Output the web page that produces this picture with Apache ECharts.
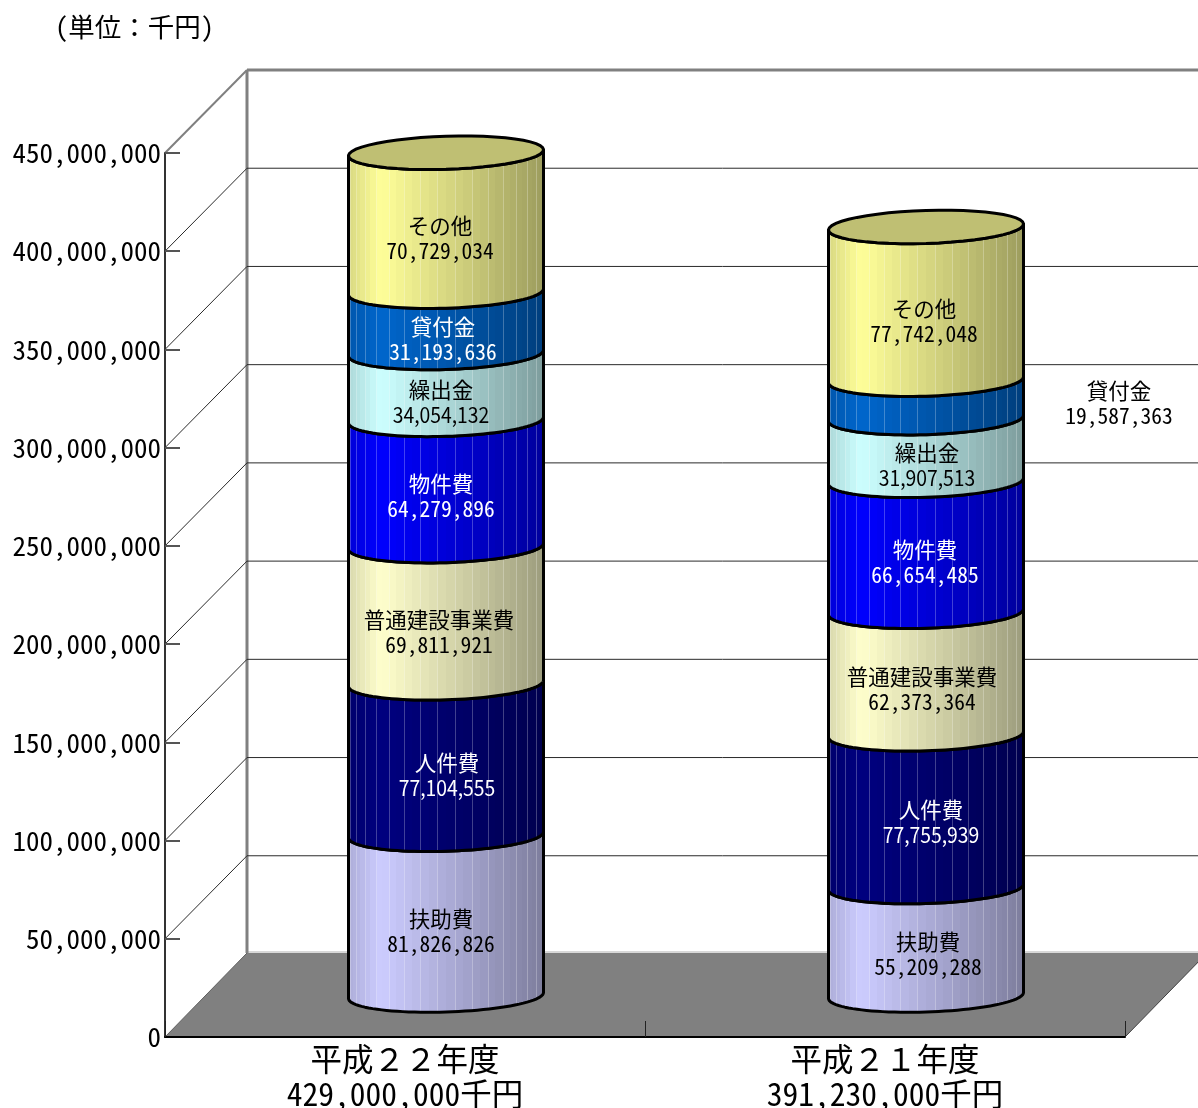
<!DOCTYPE html>
<html><head><meta charset="utf-8">
<style>
html,body{margin:0;padding:0;background:#fff}
#c{width:1198px;height:1108px}
</style>
<script src="https://cdn.jsdelivr.net/npm/echarts@6/dist/echarts.min.js"></script>
</head><body><div id="c"></div>
<script>
const categories = ['平成２２年度', '平成２１年度'];
const totals = ['429,000,000千円', '391,230,000千円'];
const yTicks = [0, 50000000, 100000000, 150000000, 200000000, 250000000, 300000000, 350000000, 400000000, 450000000];

const names = ['扶助費', '人件費', '普通建設事業費', '物件費', '繰出金', '貸付金', 'その他'];
const fujohi   = [81826826, 55209288];
const jinkenhi = [77104555, 77755939];
const kensetsu = [69811921, 62373364];
const bukkenhi = [64279896, 66654485];
const kuridashi= [34054132, 31907513];
const kashitsuke=[31193636, 19587363];
const sonota   = [70729034, 77742048];
const values = [fujohi, jinkenhi, kensetsu, bukkenhi, kuridashi, kashitsuke, sonota];

const baseColors = ['#ccccff', '#000080', '#ffffcc', '#0000ff', '#ccffff', '#0066cc', '#ffff99'];
const labelColors = [['#000', '#000'], ['#fff', '#fff'], ['#000', '#000'], ['#fff', '#fff'], ['#000', '#000'], ['#fff', '#000'], ['#000', '#000']];
// label nudges relative to the cylinder axis (style only)
const nudgeX = [[-5, 2], [1, 5], [-7, -4], [-5, -1], [-5, 1], [-3, 193], [-6, -2]];
const nudgeY = [[0, -3], [0, -4], [2, 0], [-3, 0], [0, 0], [1, -12], [0, 2.5]];
const tightValues = [77104555, 77755939, 34054132, 31907513];

const MONO = '"Noto Sans Mono CJK JP", "Liberation Mono", monospace';
const DX = 82, DY = 83, RX = 97.5, RY = 16.5, SKEW = 3;

const hex = c => [1, 3, 5].map(i => parseInt(c.slice(i, i + 2), 16));
const mix = (rgb, k, w) => 'rgb(' + rgb.map(v => Math.round(Math.min(255, v * k + (255 - v * k) * (w || 0)))).join(',') + ')';
function shade(x) { return x < 0.17 ? 0.84 + (x / 0.17) * 0.16 : 1 - ((x - 0.17) / 0.83) * 0.39; }
function stripes(color) {
  const rgb = hex(color), stops = [], N = 36;
  for (let k = 0; k < N; k++) {
    const x0 = (1 - Math.cos(k / N * Math.PI)) / 2, x1 = (1 - Math.cos((k + 1) / N * Math.PI)) / 2;
    const c = mix(rgb, shade((x0 + x1) / 2));
    const edge = k % 2 === 1 && k > 1 && k < N - 2 ? Math.min(x1, x0 + 0.005) : x0;
    if (edge > x0) {
      const hl = mix(rgb, shade(x0), 0.25);
      stops.push({ offset: x0, color: hl }, { offset: edge, color: hl });
    }
    stops.push({ offset: edge, color: c }, { offset: x1, color: c });
  }
  return new echarts.graphic.LinearGradient(0, 0, 1, 0, stops);
}
const fills = baseColors.map(stripes);

function arc(cx, cy, from, to) {
  const pts = [], n = 48;
  for (let i = 0; i <= n; i++) {
    const t = from + (to - from) * i / n;
    pts.push([cx + RX * Math.cos(t), cy + RY * Math.sin(t) - SKEW * Math.cos(t)]);
  }
  return pts;
}

function renderFloor(params, api) {
  const cs = params.coordSys, l = cs.x, r = cs.x + cs.width;
  const y0 = api.coord([0, 0])[1], back = y0 - DY - 1;
  return { type: 'group', children: [
    { type: 'polygon', shape: { points: [[l, y0], [r, y0], [r + DX, back], [l + DX, back]] }, style: { fill: '#808080' } },
    { type: 'line', shape: { x1: l + DX, y1: back - 1, x2: api.getWidth(), y2: back - 1 }, style: { stroke: '#d8d8d8', lineWidth: 2 } },
    { type: 'line', shape: { x1: r, y1: y0, x2: r + DX, y2: back }, style: { stroke: '#404040', lineWidth: 1 } },
    { type: 'line', shape: { x1: l, y1: y0, x2: l + DX, y2: back }, style: { stroke: '#606060', lineWidth: 1 } },
    { type: 'line', shape: { x1: l + DX, y1: back, x2: l + DX, y2: api.coord([0, yTicks[yTicks.length - 1]])[1] - DY }, style: { stroke: '#808080', lineWidth: 3 } }
  ] };
}

function renderGrid(params, api) {
  const v = api.value(1), cs = params.coordSys, l = cs.x, y = api.coord([0, v])[1];
  if (v === 0) return { type: 'group', children: [] };
  const top = v === yTicks[yTicks.length - 1];
  const style = top ? { stroke: '#808080', lineWidth: 3 } : { stroke: '#2a2a2a', lineWidth: 1 };
  return { type: 'group', children: [
    { type: 'line', shape: { x1: l, y1: y, x2: l + DX, y2: y - DY }, style: top ? { stroke: '#808080', lineWidth: 2 } : style },
    { type: 'line', shape: { x1: l + DX, y1: y - DY, x2: api.getWidth(), y2: y - DY }, style }
  ] };
}

function renderSegment(params, api) {
  const si = params.seriesIndex - 2, ci = params.dataIndex;
  const col = api.value(0), lo = api.value(1), hi = api.value(2);
  const cx = api.coord([col, 0])[0] + DX / 2;
  const yLo = api.coord([col, lo])[1] - DY / 2, yHi = api.coord([col, hi])[1] - DY / 2;
  const pts = arc(cx, yHi, 0, Math.PI).concat(arc(cx, yLo, Math.PI, 0));
  const children = [{ type: 'polygon', shape: { points: pts }, style: { fill: fills[si], stroke: '#000', lineWidth: 3, lineJoin: 'round' } }];
  if (si === names.length - 1) {
    children.push({ type: 'polygon', shape: { points: arc(cx, yHi, 0, 2 * Math.PI) }, style: { fill: mix(hex(baseColors[si]), 0.75), stroke: '#000', lineWidth: 3 } });
  }
  const lx = cx + nudgeX[si][ci], ly = (yLo + yHi) / 2 + 16 + nudgeY[si][ci];
  const val = hi - lo;
  const tight = tightValues.indexOf(val) >= 0;
  const fill = labelColors[si][ci];
  children.push(
    { type: 'text', x: lx, y: ly - 12.5, style: { x: 0, y: 0, text: names[si], align: 'center', verticalAlign: 'middle', fill, font: '21.5px ' + MONO }, z2: 10 },
    { type: 'text', x: lx, y: ly + 12.5, scaleX: tight ? 0.9 : 1, style: { x: 0, y: 0, text: val.toLocaleString('en-US'), align: 'center', verticalAlign: 'middle', fill, font: tight ? '21.5px "Noto Sans CJK JP"' : '21.5px ' + MONO }, z2: 10 }
  );
  return { type: 'group', children };
}

const stacked = values.map((arr, si) => arr.map((v, ci) => {
  let lo = 0; for (let k = 0; k < si; k++) lo += values[k][ci];
  return [ci, lo, lo + v];
}));

const option = {
  animation: false,
  backgroundColor: '#fff',
  title: { text: '(単位：千円)', left: 50, top: 9, textStyle: { fontFamily: MONO, fontWeight: 'normal', fontSize: 26.5, color: '#000' } },
  grid: { left: 165, right: 73, top: 153, bottom: 71, containLabel: false, outerBoundsMode: 'none' },
  xAxis: {
    type: 'category', data: categories.map((c, i) => c + '\n' + totals[i]), z: 11,
    axisLine: { lineStyle: { color: '#000', width: 2 } },
    axisTick: { show: true, interval: 0, alignWithLabel: false, inside: true, length: 16, lineStyle: { color: '#222', width: 1 } },
    axisLabel: { interval: 0, margin: 4.5, lineHeight: 35, fontSize: 31.5, color: '#000', fontFamily: MONO }
  },
  yAxis: {
    type: 'value', min: 0, max: 450000000, interval: 50000000, z: 10,
    axisLine: { show: true, lineStyle: { color: '#333', width: 2 } },
    axisTick: { show: true, inside: true, length: 15, lineStyle: { color: '#555', width: 2 } },
    splitLine: { show: false },
    axisLabel: { margin: 4, fontSize: 27, color: '#000', fontFamily: MONO, formatter: v => v.toLocaleString('en-US') }
  },
  series: [
    { type: 'custom', name: '床', silent: true, z: 1, clip: false, renderItem: renderFloor, encode: { x: 0, y: 1 }, data: [[0, 0]] },
    { type: 'custom', name: '目盛', silent: true, z: 2, clip: false, renderItem: renderGrid, encode: { x: 0, y: 1 }, data: yTicks.map(v => [0, v]) }
  ].concat(names.map((n, si) => ({
    type: 'custom', name: n, z: 5, clip: false, renderItem: renderSegment, encode: { x: 0, y: [1, 2] }, data: stacked[si]
  })))
};

const chart = echarts.init(document.getElementById('c'), null, { renderer: 'canvas' });
chart.setOption(option);
</script></body></html>
